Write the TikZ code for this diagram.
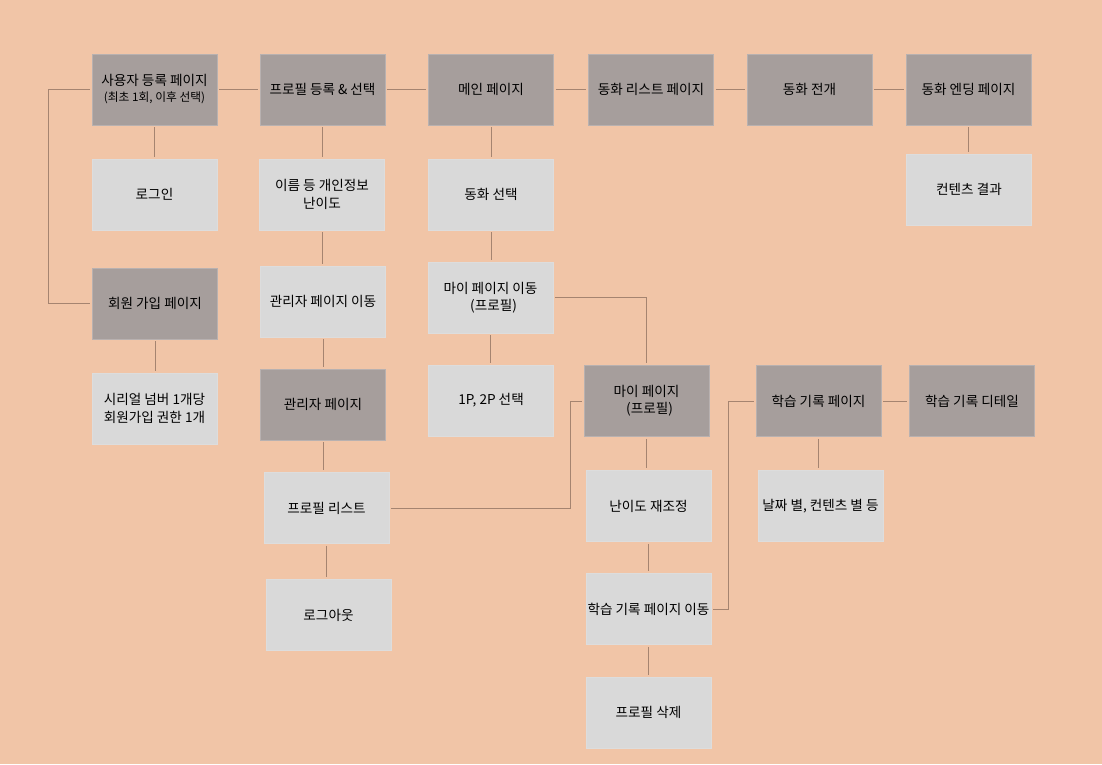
\documentclass[tikz,border=0pt]{standalone}
\usepackage{fontspec}
\setmainfont{Noto Sans CJK KR}
\definecolor{fond}{RGB}{241,197,167}
\definecolor{page}{RGB}{166,158,156}
\definecolor{detail}{RGB}{217,217,217}
\definecolor{lien}{RGB}{165,132,112}
\begin{document}
\begin{tikzpicture}[x=0.75pt, y=-0.75pt,
	boite/.style={minimum width=93.75pt, minimum height=53.25pt, inner sep=1pt, align=center, font=\fontsize{10.2}{13}\selectfont},
	pagebox/.style={boite, fill=page, draw=page!80!white, line width=0.5pt},
	detailbox/.style={boite, fill=detail, draw=detail!90!white, line width=0.5pt},
	lienline/.style={draw=lien, line width=0.65pt, shorten <=1.5pt, shorten >=1.5pt}]
				% Fond
				\fill [color=fond]	(0,0)	rectangle	(1102,764)	;
				\useasboundingbox	(0,0)	rectangle	(1102,764)	;
				% Pages
				\node [pagebox]		(reg)		at (154.5, 89.5)	{사용자 등록 페이지\\[-1pt]{\fontsize{8.8}{10}\selectfont (최초 1회, 이후 선택)}};
				\node [pagebox]		(prof)		at (322.5, 89.5)	{프로필 등록 \& 선택};
				\node [pagebox]		(main)		at (491, 89.5)		{메인 페이지};
				\node [pagebox]		(list)		at (651, 89.5)		{동화 리스트 페이지};
				\node [pagebox]		(story)		at (809.5, 89.5)	{동화 전개};
				\node [pagebox]		(ending)	at (968.5, 89.5)	{동화 엔딩 페이지};
				\node [pagebox]		(signup)	at (155, 303.5)		{회원 가입 페이지};
				\node [pagebox]		(admin)		at (323, 404.5)		{관리자 페이지};
				\node [pagebox]		(mypage)	at (646.5, 401)		{마이 페이지\\\ \ (프로필)};
				\node [pagebox]		(record)	at (818.5, 401)		{학습 기록 페이지};
				\node [pagebox]		(recdetail)	at (972, 401)		{학습 기록 디테일};
				% Details
				\node [detailbox]	(login)		at (154.5, 194.5)	{로그인};
				\node [detailbox]	(info)		at (322, 194.5)		{이름 등 개인정보\\난이도};
				\node [detailbox]	(pick)		at (491, 194.5)		{동화 선택};
				\node [detailbox]	(result)	at (969, 189.5)		{컨텐츠 결과};
				\node [detailbox]	(adminmove)	at (323, 301.5)		{관리자 페이지 이동};
				\node [detailbox]	(mymove)	at (490.5, 297.5)	{마이 페이지 이동\\\ \ (프로필)};
				\node [detailbox]	(serial)	at (154.5, 408.5)	{시리얼 넘버 1개당\\회원가입 권한 1개};
				\node [detailbox]	(players)	at (491, 400.5)		{1P, 2P 선택};
				\node [detailbox]	(proflist)	at (326.5, 508)		{프로필 리스트};
				\node [detailbox]	(level)		at (648.5, 506)		{난이도 재조정};
				\node [detailbox]	(bydate)	at (820.5, 506)		{날짜 별, 컨텐츠 별 등};
				\node [detailbox]	(logout)	at (328.5, 615)		{로그아웃};
				\node [detailbox]	(recmove)	at (648.5, 609)		{학습 기록 페이지 이동};
				\node [detailbox]	(profdel)	at (648.5, 712.5)	{프로필 삭제};
				% Coudes
				\coordinate (busA) at (48, 0);
				\coordinate (busB) at (570, 0);
				\coordinate (busC) at (728, 0);
				% Liens horizontaux
				\draw [lienline]	(reg)		-- (prof);
				\draw [lienline]	(prof)		-- (main);
				\draw [lienline]	(main)		-- (list);
				\draw [lienline]	(list)		-- (story);
				\draw [lienline]	(story)		-- (ending);
				\draw [lienline]	(record)	-- (recdetail);
				% Liens verticaux
				\draw [lienline]	(reg.south)			-- (reg.south |- login.north);
				\draw [lienline]	(signup.south)		-- (signup.south |- serial.north);
				\draw [lienline]	(prof.south)		-- (prof.south |- info.north);
				\draw [lienline]	(info.south)		-- (info.south |- adminmove.north);
				\draw [lienline]	(adminmove.south)	-- (adminmove.south |- admin.north);
				\draw [lienline]	(admin.south)		-- (admin.south |- proflist.north);
				\draw [lienline]	(proflist.south)	-- (proflist.south |- logout.north);
				\draw [lienline]	(main.south)		-- (main.south |- pick.north);
				\draw [lienline]	(pick.south)		-- (pick.south |- mymove.north);
				\draw [lienline]	(mymove.south)		-- (mymove.south |- players.north);
				\draw [lienline]	(ending.south)		-- (ending.south |- result.north);
				\draw [lienline]	(mypage.south)		-- (mypage.south |- level.north);
				\draw [lienline]	(level.south)		-- (level.south |- recmove.north);
				\draw [lienline]	(recmove.south)		-- (recmove.south |- profdel.north);
				\draw [lienline]	(record.south)		-- (record.south |- bydate.north);
				% Liens coudés
				\draw [lienline]	(reg.west)		-- (reg.west -| busA)		|- (signup.west);
				\draw [lienline]	(mymove.east)	-| (mypage.north);
				\draw [lienline]	(proflist.east)	-- (proflist.east -| busB)	|- (mypage.west);
				\draw [lienline]	(recmove.east)	-- (recmove.east -| busC)	|- (record.west);
\end{tikzpicture}
\end{document}
